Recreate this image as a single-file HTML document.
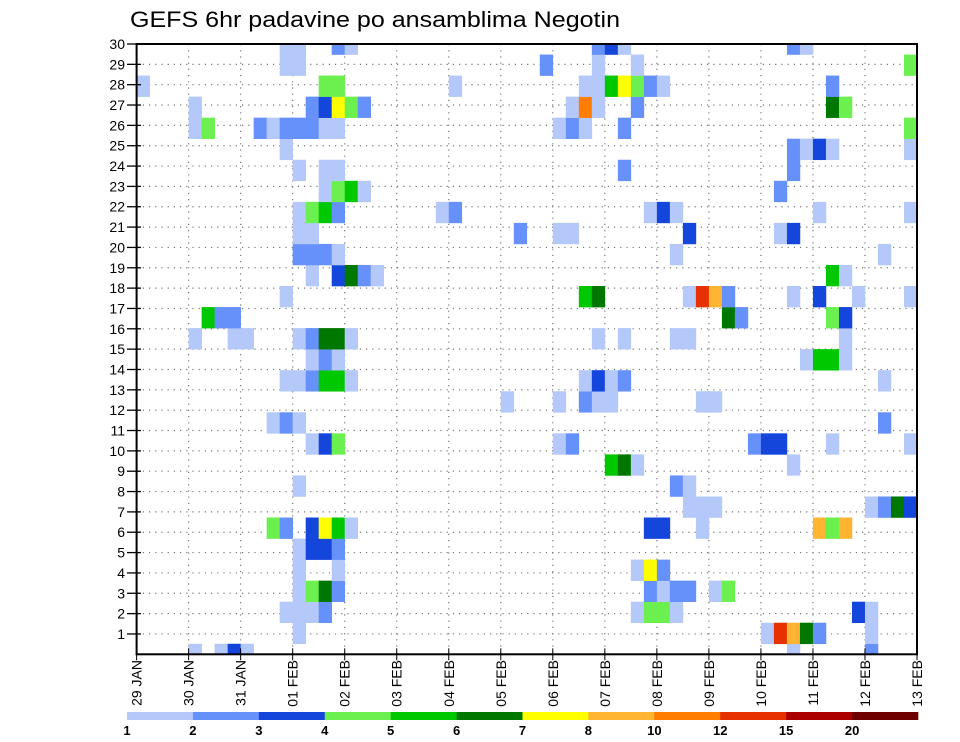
<!DOCTYPE html>
<html>
<head>
<meta charset="utf-8">
<style>
  html, body { margin:0; padding:0; background:#fff; }
  svg { display:block; font-family:"Liberation Sans", sans-serif; }
</style>
</head>
<body>
<svg id="chart" width="960" height="742" viewBox="0 0 960 742" xmlns="http://www.w3.org/2000/svg">
  <text x="130" y="27" font-size="22" textLength="490" lengthAdjust="spacingAndGlyphs" fill="#000">GEFS 6hr padavine po ansamblima Negotin</text>
  <defs>
    <clipPath id="plotclip"><rect x="136.6" y="44" width="780.4" height="610.3"/></clipPath>
  </defs>
  <g id="grid"></g>
  <g id="cells" clip-path="url(#plotclip)"></g>
  <g id="axes"></g>
  <g id="legend"></g>
</svg>
<script>
// ---- data ----
const dayLabels = ["29 JAN","30 JAN","31 JAN","01 FEB","02 FEB","03 FEB","04 FEB","05 FEB","06 FEB","07 FEB","08 FEB","09 FEB","10 FEB","11 FEB","12 FEB","13 FEB"];
const yTickLabels = [1,2,3,4,5,6,7,8,9,10,11,12,13,14,15,16,17,18,19,20,21,22,23,24,25,26,27,28,29,30];
const legendLabels = ["1","2","3","4","5","6","7","8","10","12","15","20"];
const levelColors = ["#b4c8fa","#6690fa","#1446dc","#6cf050","#00c800","#007800","#ffff00","#ffb432","#ff7d00","#e63200","#aa0000","#6e0000"];
// members (bottom i=0 .. top i=29) : [member, column(6h step), level]
const member29 = [[11,1],[12,1],[15,2],[16,1],[35,2],[36,3],[37,1],[50,2],[51,1]];
const member28 = [[11,1],[12,1],[31,2],[35,1],[38,1],[59,4]];
const member27 = [[0,1],[14,4],[15,4],[24,1],[34,1],[35,1],[36,5],[37,7],[38,4],[39,2],[40,1],[53,2]];
const member26 = [[4,1],[13,2],[14,3],[15,7],[16,4],[17,2],[33,1],[34,9],[35,1],[38,2],[53,6],[54,4]];
const member25 = [[4,1],[5,4],[9,2],[10,1],[11,2],[12,2],[13,2],[14,1],[15,1],[32,1],[33,2],[34,1],[37,2],[59,4]];
const member24 = [[11,1],[50,2],[51,1],[52,3],[53,1],[59,1]];
const member23 = [[12,1],[14,1],[15,1],[37,2],[50,2]];
const member22 = [[14,1],[15,4],[16,5],[17,1],[49,2]];
const member21 = [[12,1],[13,4],[14,5],[15,2],[23,1],[24,2],[39,1],[40,3],[41,1],[52,1],[59,1]];
const member20 = [[12,1],[13,1],[29,2],[32,1],[33,1],[42,3],[49,1],[50,3]];
const member19 = [[12,2],[13,2],[14,2],[15,1],[41,1],[57,1]];
const member18 = [[13,1],[15,3],[16,6],[17,2],[18,1],[53,5],[54,1]];
const member17 = [[11,1],[34,5],[35,6],[42,1],[43,10],[44,8],[45,2],[50,1],[52,3],[55,1],[59,1]];
const member16 = [[5,5],[6,2],[7,2],[45,6],[46,2],[53,4],[54,3]];
const member15 = [[4,1],[7,1],[8,1],[12,1],[13,2],[14,6],[15,6],[16,1],[35,1],[37,1],[41,1],[42,1],[54,1]];
const member14 = [[13,1],[14,2],[15,1],[51,1],[52,5],[53,5],[54,1]];
const member13 = [[11,1],[12,1],[13,2],[14,5],[15,5],[16,1],[34,1],[35,3],[36,1],[37,2],[57,1]];
const member12 = [[28,1],[32,1],[34,2],[35,1],[36,1],[43,1],[44,1]];
const member11 = [[10,1],[11,2],[12,1],[57,2]];
const member10 = [[13,1],[14,3],[15,4],[32,1],[33,2],[47,2],[48,3],[49,3],[53,1],[59,1]];
const member9 = [[36,5],[37,6],[38,1],[50,1]];
const member8 = [[12,1],[41,2],[42,1]];
const member7 = [[42,1],[43,1],[44,1],[56,1],[57,2],[58,6],[59,3]];
const member6 = [[10,4],[11,2],[13,3],[14,7],[15,5],[16,1],[39,3],[40,3],[43,1],[52,8],[53,4],[54,8]];
const member5 = [[12,1],[13,3],[14,3],[15,2]];
const member4 = [[12,1],[15,1],[38,1],[39,7],[40,2]];
const member3 = [[12,1],[13,4],[14,6],[15,2],[39,2],[40,1],[41,2],[42,2],[44,1],[45,4]];
const member2 = [[11,1],[12,1],[13,1],[14,2],[38,1],[39,4],[40,4],[41,1],[55,3],[56,1]];
const member1 = [[12,1],[48,1],[49,10],[50,8],[51,6],[52,2],[56,1]];
const member0 = [[4,1],[6,1],[7,3],[8,1],[50,1],[56,2]];
const members = [member0,member1,member2,member3,member4,member5,member6,member7,member8,member9,member10,member11,member12,member13,member14,member15,member16,member17,member18,member19,member20,member21,member22,member23,member24,member25,member26,member27,member28,member29];

// ---- layout ----
const NS = "http://www.w3.org/2000/svg";
const L = 136.6, R = 917, T = 44, B = 654.3;
const nSteps = (dayLabels.length - 1) * 4;
const stepW = (R - L) / nSteps;
const memH = (B - T) / (members.length - 1);
function xDay(d){ return L + d * (R - L) / (dayLabels.length - 1); }
function xStep(j){ return L + j * stepW; }
function yTick(k){ return B - k * (B - T) / yTickLabels.length; }
function yMember(i){ return B - i * memH; }
function mk(tag, attrs, parent){ const e = document.createElementNS(NS, tag); for (const k in attrs) e.setAttribute(k, attrs[k]); parent.appendChild(e); return e; }

const grid = document.getElementById('grid');
const cells = document.getElementById('cells');
const axes = document.getElementById('axes');
const legend = document.getElementById('legend');

// gridlines
yTickLabels.forEach(function(k){
  if (k >= yTickLabels.length) return;
  const ln = mk('line', {x1:L, x2:R, y1:yTick(k), y2:yTick(k), stroke:'#777', 'stroke-width':1.2, 'stroke-dasharray':'1.2 5'}, grid);
  
  
});
dayLabels.forEach(function(lbl, d){
  if (d === 0 || d === dayLabels.length - 1) return;
  const ln = mk('line', {x1:xDay(d), x2:xDay(d), y1:T, y2:B, stroke:'#777', 'stroke-width':1.2, 'stroke-dasharray':'1.2 5'}, grid);
  
  
});

// cells
members.forEach(function(row, i){
  row.forEach(function(c){
    const r = mk('rect', {x:xStep(c[0]), y:yMember(i) - memH/2, width:stepW + 0.3, height:memH + 0.3, fill:levelColors[c[1]-1]}, cells);
    
    
  });
});

// frame
const frame = mk('rect', {x:L, y:T, width:R-L, height:B-T, fill:'none', stroke:'#000', 'stroke-width':2}, axes);



// y ticks + labels
yTickLabels.forEach(function(k){
  const y = yTick(k);
  const t = mk('line', {x1:127, x2:141, y1:y, y2:y, stroke:'#000', 'stroke-width':1.3}, axes);
  
  
  const tx = mk('text', {x:125, y:y+5, 'font-size':14, 'text-anchor':'end', fill:'#000'}, axes);
  tx.textContent = String(k);
  
  
});

// x ticks + labels
dayLabels.forEach(function(lbl, d){
  const x = xDay(d);
  const t = mk('line', {x1:x, x2:x, y1:B-6, y2:B+6, stroke:'#000', 'stroke-width':1}, axes);
  
  
  const tx = mk('text', {x:0, y:0, 'font-size':14, 'text-anchor':'end', fill:'#000', transform:'translate(' + (x+5) + ',660) rotate(-90)'}, axes);
  tx.textContent = lbl;
  
  
});

// legend
const LL = 127, LR = 918, LY = 712, LH = 8;
const segW = (LR - LL) / levelColors.length;
levelColors.forEach(function(col, n){
  const r = mk('rect', {x:LL + n*segW, y:LY, width:segW + 0.3, height:LH, fill:col}, legend);
  
  
});
legendLabels.forEach(function(lbl, n){
  const tx = mk('text', {x:LL + n*segW, y:735, 'font-size':13, 'font-weight':'bold', 'text-anchor':'middle', fill:'#000'}, legend);
  tx.textContent = lbl;
  
  
});
</script>
</body>
</html>
